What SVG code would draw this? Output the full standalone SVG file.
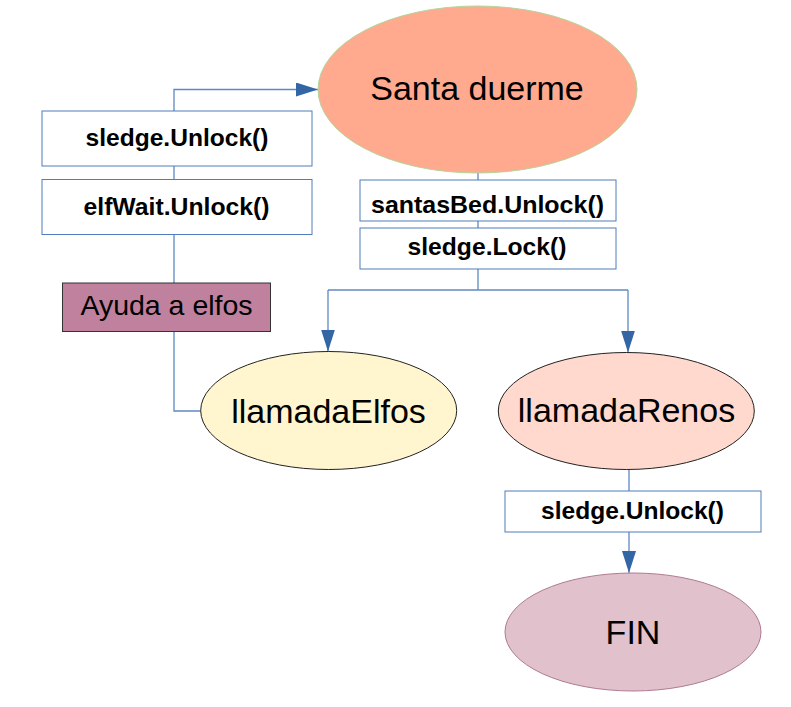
<svg xmlns="http://www.w3.org/2000/svg" width="791" height="707" viewBox="0 0 791 707">
<defs>
<marker id="ah" markerUnits="userSpaceOnUse" markerWidth="22" markerHeight="14" refX="22" refY="7" orient="auto">
<path d="M0,0 L22,7 L0,14 z" fill="#3465a4"/>
</marker>
<style>
.box{fill:#ffffff;stroke:#4f7cba;stroke-width:1}
.con{fill:none;stroke:#5f88c2;stroke-width:1.3}
.arr{marker-end:url(#ah)}
.bt{font-family:"Liberation Sans",Arial,sans-serif;font-weight:bold;font-size:24.5px;fill:#000;text-anchor:middle}
.et{font-family:"Liberation Sans",Arial,sans-serif;font-size:34px;fill:#000;text-anchor:middle}
</style>
</defs>
<rect width="791" height="707" fill="#ffffff"/>
<g id="connectors">
<path class="con arr" d="M174,111 V89.5 H318"/>
<path class="con" d="M174,166 V179"/>
<path class="con" d="M174,234 V283"/>
<path class="con" d="M174,332 V411 H201"/>
<path class="con" d="M478,173 V180"/>
<path class="con" d="M478,221 V228"/>
<path class="con" d="M478,269 V290"/>
<path class="con" d="M328,290 H628"/>
<path class="con arr" d="M328,290 V351.5"/>
<path class="con arr" d="M628,290 V352.5"/>
<path class="con" d="M629,469 V491"/>
<path class="con arr" d="M629,532 V573"/>
</g>
<g id="santa">
<ellipse cx="477.5" cy="89.5" rx="159.5" ry="83.5" fill="#ffa98e" stroke="#b3d69b" stroke-width="1"/>
<text class="et" x="477" y="100">Santa duerme</text>
</g>
<g id="sledgeUnlock1">
<rect class="box" x="42" y="111" width="270" height="55"/>
<text class="bt" x="177" y="146" textLength="183" lengthAdjust="spacingAndGlyphs">sledge.Unlock()</text>
</g>
<g id="elfWaitUnlock">
<rect class="box" x="42" y="179.5" width="270" height="55"/>
<text class="bt" x="176.5" y="215" textLength="186" lengthAdjust="spacingAndGlyphs">elfWait.Unlock()</text>
</g>
<g id="santasBedUnlock">
<rect class="box" x="360" y="180" width="256" height="41"/>
<text class="bt" x="487.5" y="212.5" textLength="233" lengthAdjust="spacingAndGlyphs">santasBed.Unlock()</text>
</g>
<g id="sledgeLock">
<rect class="box" x="360" y="228" width="256" height="41"/>
<text class="bt" x="487" y="255" textLength="159" lengthAdjust="spacingAndGlyphs">sledge.Lock()</text>
</g>
<g id="ayuda">
<rect x="62.5" y="283" width="208" height="48.5" fill="#bf819e" stroke="#333333" stroke-width="1"/>
<text x="166.5" y="315" font-family="Liberation Sans, Arial, sans-serif" font-size="28.5" text-anchor="middle" fill="#000">Ayuda a elfos</text>
</g>
<g id="llamadaElfos">
<ellipse cx="328.7" cy="410.5" rx="128" ry="59" fill="#fff5ce" stroke="#222222" stroke-width="1"/>
<text class="et" x="328.5" y="422.5">llamadaElfos</text>
</g>
<g id="llamadaRenos">
<ellipse cx="626.3" cy="411" rx="128" ry="58.5" fill="#ffd8ce" stroke="#222222" stroke-width="1"/>
<text class="et" x="626.5" y="421.5">llamadaRenos</text>
</g>
<g id="sledgeUnlock2">
<rect class="box" x="505" y="491" width="256" height="41"/>
<text class="bt" x="632.5" y="518.5" textLength="183" lengthAdjust="spacingAndGlyphs">sledge.Unlock()</text>
</g>
<g id="fin">
<ellipse cx="633" cy="632" rx="128" ry="59" fill="#e0c1cc" stroke="#b07a93" stroke-width="1"/>
<text class="et" x="633" y="643.5">FIN</text>
</g>
</svg>
